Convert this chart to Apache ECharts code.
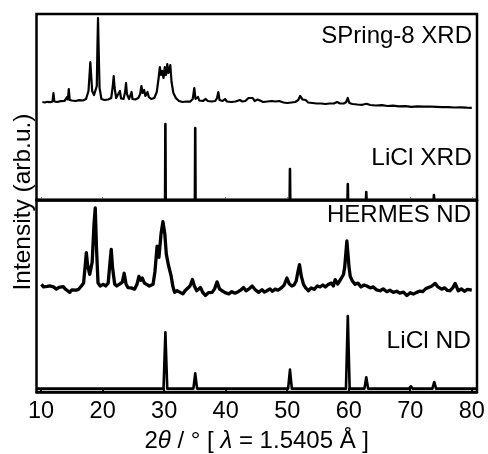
<!DOCTYPE html>
<html>
<head>
<meta charset="utf-8">
<script src="https://cdn.jsdelivr.net/npm/echarts@6/dist/echarts.min.js"></script>
<style>
  html, body { margin: 0; padding: 0; background: #fff; }
  #chart { width: 488px; height: 454px; }
</style>
</head>
<body>
<div id="chart"></div>
<script>
// x range of the frame (2theta, degrees)
const X_MIN = 9.25;
const X_MAX = 80.85;
const tickValues = [10, 20, 30, 40, 50, 60, 70, 80];

// SPring-8 XRD pattern [2theta, intensity]
const spring8Xrd = [
  [10.2,6],[10.6,5.5],[11.0,6.2],[11.5,5.8],[11.85,6.5],[12.0,15],[12.15,6.5],[12.6,6],[13.2,6.8],[13.8,7],
  [14.1,8],[14.25,11],[14.35,8.5],[14.5,19],[14.65,8],[15.0,7.5],[15.6,7],[16.2,7.8],[16.8,7.5],[17.3,9],
  [17.7,17],[17.9,36],[18.0,46],[18.1,36],[18.3,17],[18.6,13],[18.9,12.5],[19.05,22],[19.15,60],[19.25,90],
  [19.35,60],[19.5,20],[19.8,9],[20.3,8],[20.9,8.5],[21.4,10],[21.65,22],[21.8,32],[21.95,20],[22.2,10],
  [22.5,9.5],[22.8,17],[23.0,9.5],[23.4,9],[23.65,16],[23.8,25],[23.95,14],[24.3,9],[24.55,10],[24.7,16],
  [24.85,9],[25.3,8.5],[25.8,10],[26.1,14],[26.3,22],[26.5,15],[26.75,18],[26.95,12],[27.15,13],[27.3,16],
  [27.5,11],[27.9,9],[28.4,10],[28.8,16],[29.1,30],[29.3,41],[29.5,33],[29.7,37],[29.9,30],[30.1,41],
  [30.3,33],[30.5,44],[30.7,35],[30.85,38],[31.0,43],[31.2,26],[31.5,15],[31.9,10],[32.4,7],[33.0,6],
  [33.6,6.5],[34.2,6.3],[34.65,9],[34.9,20],[35.1,9],[35.35,9],[35.5,11],[35.7,7.5],[36.3,7],[36.75,9],
  [36.9,11],[37.1,7],[37.7,6.5],[38.3,7],[38.6,10],[38.8,16],[39.0,8],[39.5,7],[39.9,9],[40.2,6.5],
  [40.9,6],[41.6,6.5],[42.3,8],[42.7,6.5],[43.2,7],[43.7,10],[44.0,8],[44.4,10],[44.7,7],[45.2,8.5],
  [45.5,6.5],[46.1,6],[46.8,6.5],[47.5,7],[47.8,9],[48.1,6.5],[48.7,7],[49.0,8],[49.4,5.5],[50.0,5],
  [50.7,5.5],[51.3,6],[51.8,8],[52.1,12],[52.3,13],[52.5,8.5],[53.0,8],[53.4,5.5],[54.1,5],[54.8,4.5],
  [55.5,4.5],[56.2,4],[56.9,4.5],[57.6,4.5],[58.1,6],[58.6,4.5],[59.2,4.5],[59.6,6],[59.85,10],[60.1,5],
  [60.6,4],[61.4,3.5],[62.2,3.2],[62.9,4.2],[63.5,3],[64.4,2.5],[65.4,2.8],[66.3,2],[67.2,2.3],[68.2,1.6],
  [69.2,1.8],[70.2,1.2],[71.2,1.6],[72.2,1.3],[73.2,1.5],[74.2,1.1],[75.2,0.8],[76.2,0.9],[77.2,0.5],[78.2,0.7],
  [79.2,0.3],[80.0,0.2]
];

// LiCl XRD reference peaks
const liclXrdPos = [30.2, 35.05, 50.45, 59.85, 62.85, 73.85];
const liclXrdInt = [76, 72, 31, 16, 8, 5];

// HERMES ND pattern [2theta, intensity]
const hermesNd = [
  [10.05,11.7],[10.4,9],[10.7,11],[11.0,9.5],[11.4,10],[11.7,8],[12.0,9],[12.5,6.7],[12.9,8.5],[13.2,7],
  [13.6,9.3],[13.9,7],[14.3,5],[14.65,3.3],[15.0,6],[15.3,4],[15.7,5.7],[16.1,6.5],[16.55,10],[16.9,13],
  [17.15,30],[17.35,45],[17.55,32],[17.9,22],[18.3,35],[18.6,75],[18.8,91.7],[19.0,50],[19.25,13.3],[19.6,10],
  [20.1,11.7],[20.5,10],[20.9,13],[21.2,35],[21.4,48.3],[21.6,30],[21.95,12],[22.3,10],[22.75,12],[23.2,14],
  [23.5,23.3],[23.8,12],[24.1,8.3],[24.6,8],[25.2,6.7],[25.6,12],[25.9,20],[26.2,16],[26.45,18.3],[26.8,13],
  [27.1,11.7],[27.6,10],[28.2,11.7],[28.5,25],[28.85,51.7],[29.15,40],[29.5,65],[29.8,77.3],[30.1,65],[30.35,43.3],
  [30.7,31.7],[31.15,20],[31.4,10],[31.7,3.3],[32.1,5],[32.6,3.3],[33.05,1.7],[33.4,5],[33.7,6.7],[34.2,10],
  [34.6,16.7],[34.9,10],[35.3,5],[35.6,7],[35.9,8.3],[36.3,3],[36.7,0],[37.2,3],[37.8,3.3],[38.2,7],
  [38.6,14.3],[39.0,7],[39.4,5],[39.9,3],[40.5,1.7],[41.0,4],[41.5,2.5],[42.1,4.3],[42.5,6],[42.9,8.3],
  [43.3,5],[43.8,7],[44.3,10],[44.8,6],[45.35,3.3],[45.9,6],[46.3,3.5],[46.7,5],[47.2,7],[47.6,4.5],
  [48.05,6.7],[48.5,5.5],[49.1,8.3],[49.5,11],[49.95,18.3],[50.35,12],[50.75,10],[51.1,11],[51.45,15],[51.75,25],
  [52.0,32.3],[52.3,20],[52.65,11.7],[53.0,8],[53.45,5],[53.9,8],[54.4,6.5],[54.9,10],[55.35,9],[55.8,11],
  [56.2,9],[56.7,11.7],[57.2,13],[57.5,10],[57.8,16.7],[58.2,12],[58.6,16],[58.9,15],[59.15,22],[59.35,30],
  [59.7,57.3],[60.05,30],[60.25,20],[60.6,15],[61.05,11.7],[61.5,13],[62.0,9],[62.5,11],[62.95,10],[63.5,8],
  [64.0,9],[64.5,6],[65.1,5],[65.6,7],[66.2,4],[66.7,5.5],[67.25,3.3],[67.8,4.5],[68.3,2.5],[68.9,3.5],
  [69.45,0],[70.0,3],[70.5,1.5],[71.05,3.3],[71.5,4.5],[72.0,4],[72.5,7],[72.95,8.3],[73.4,9.5],[74.05,12.7],
  [74.5,9],[75.1,6.7],[75.6,8],[76.0,5.5],[76.45,5],[76.9,8],[77.3,12.7],[77.8,5],[78.3,7],[78.8,4.5],
  [79.3,6.5],[80.0,5.7]
];

// LiCl ND reference peaks
const liclNdPos = [30.2, 35.05, 50.45, 59.85, 62.85, 70.1, 73.9];
const liclNdInt = [59, 16, 20, 76, 12, 2.5, 7];

// vertical offsets of each pattern inside its panel
const OFF_SPRING8 = 92;
const OFF_LICL_XRD = 0;
const OFF_HERMES = 101;
const OFF_LICL_ND = 3.5;

function shift(pts, off) {
  return pts.map(function (p) { return [p[0], p[1] + off]; });
}

function sticks(pos, h, half) {
  var pts = [[X_MIN, 0]];
  pos.forEach(function (p, i) {
    pts.push([p - half, 0], [p, h[i]], [p + half, 0]);
  });
  pts.push([X_MAX, 0]);
  return pts;
}

var FONT = '"Liberation Sans", Arial, Helvetica, sans-serif';

function xAxisBase(gridIndex, withLabels) {
  return {
    type: 'value',
    gridIndex: gridIndex,
    min: X_MIN,
    max: X_MAX,
    axisLine: { show: true, onZero: false, lineStyle: { color: '#000', width: 2.5 } },
    axisTick: {
      show: true, inside: true, length: withLabels ? 4 : 3,
      customValues: tickValues,
      lineStyle: { color: withLabels ? '#000' : '#888', width: withLabels ? 2 : 1 }
    },
    axisLabel: {
      show: withLabels, customValues: tickValues, margin: 8,
      color: '#000', fontSize: 23.5, fontFamily: FONT
    },
    splitLine: { show: false }
  };
}

function lineSeries(data, xi, width) {
  return {
    type: 'line',
    xAxisIndex: xi,
    yAxisIndex: xi,
    data: data,
    showSymbol: false,
    symbol: 'none',
    lineStyle: { color: '#000', width: width, join: 'round' },
    silent: true
  };
}

var chart = echarts.init(document.getElementById('chart'), null, { renderer: 'canvas' });

var bottomX = xAxisBase(1, true);
bottomX.name = '2{i|θ} / ° [ {i|λ} = 1.5405 Å ]';
bottomX.nameLocation = 'middle';
bottomX.nameGap = 37;
bottomX.nameTextStyle = {
  color: '#000', fontSize: 24, fontFamily: FONT,
  rich: { i: { fontStyle: 'italic', fontSize: 24, fontFamily: FONT, color: '#000' } }
};

chart.setOption({
  animation: false,
  backgroundColor: '#fff',
  grid: [
    { left: 36.5, right: 11, top: 14, height: 186, show: true, borderColor: '#000', borderWidth: 2.5, backgroundColor: 'transparent' },
    { left: 36.5, right: 11, top: 200, height: 201, show: true, borderColor: '#000', borderWidth: 2.5, backgroundColor: 'transparent' }
  ],
  xAxis: [xAxisBase(0, false), bottomX],
  yAxis: [
    { type: 'value', gridIndex: 0, min: 0, max: 186, show: false },
    { type: 'value', gridIndex: 1, min: 0, max: 201, show: false }
  ],
  series: [
    lineSeries(shift(spring8Xrd, OFF_SPRING8), 0, 2.2),
    lineSeries(shift(sticks(liclXrdPos, liclXrdInt, 0.05), OFF_LICL_XRD), 0, 2.6),
    lineSeries(shift(hermesNd, OFF_HERMES), 1, 3.3),
    lineSeries(shift(sticks(liclNdPos, liclNdInt, 0.3), OFF_LICL_ND), 1, 2.6)
  ],
  graphic: [
    { type: 'text', x: 472, y: 36, style: { text: 'SPring-8 XRD', fill: '#000', font: '24px ' + FONT, textAlign: 'right', textVerticalAlign: 'middle' } },
    { type: 'text', x: 472, y: 158, style: { text: 'LiCl XRD', fill: '#000', font: '24.5px ' + FONT, textAlign: 'right', textVerticalAlign: 'middle' } },
    { type: 'text', x: 471, y: 215, style: { text: 'HERMES ND', fill: '#000', font: '24px ' + FONT, textAlign: 'right', textVerticalAlign: 'middle' } },
    { type: 'text', x: 471, y: 341, style: { text: 'LiCl ND', fill: '#000', font: '24.5px ' + FONT, textAlign: 'right', textVerticalAlign: 'middle' } },
    { type: 'text', x: 23, y: 202, rotation: Math.PI / 2, style: { text: 'Intensity (arb.u.)', fill: '#000', font: '24.5px ' + FONT, textAlign: 'center', textVerticalAlign: 'middle' } }
  ]
});
</script>
</body>
</html>
